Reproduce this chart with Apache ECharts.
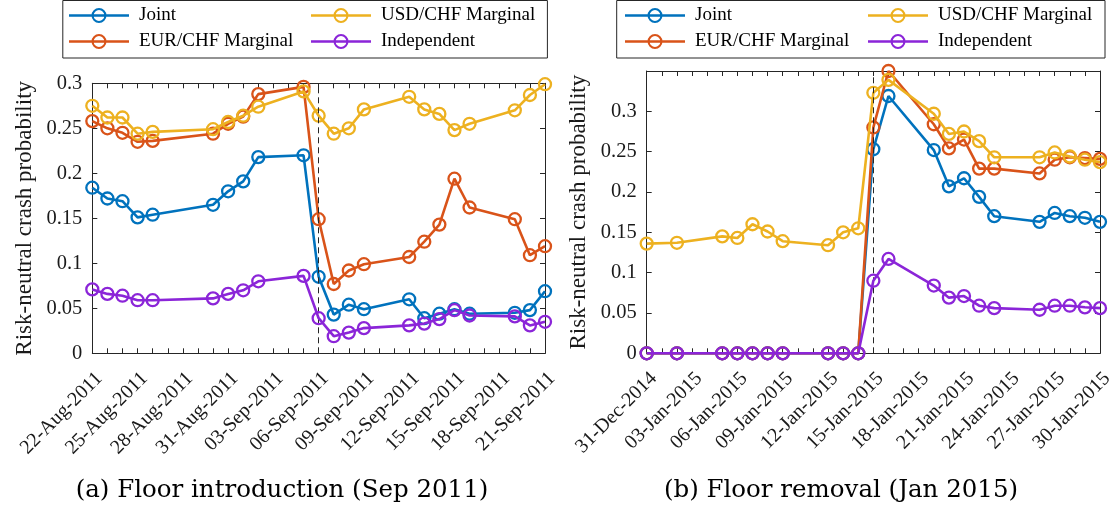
<!DOCTYPE html>
<html>
<head>
<meta charset="utf-8">
<script src="https://cdn.jsdelivr.net/npm/echarts@6/dist/echarts.min.js"></script>
<style>html,body{margin:0;padding:0;background:#fff}#c{width:1118px;height:512px}</style>
</head>
<body>
<div id="c"></div>
<script>
// ---------- data ----------
const seriesNames = ['Joint', 'EUR/CHF Marginal', 'USD/CHF Marginal', 'Independent'];
const seriesColors = ['#0072BD', '#D95319', '#EDB120', '#8B25D8'];

// (a) Floor introduction (Sep 2011)
const datesA = ['2011-08-22','2011-08-23','2011-08-24','2011-08-25','2011-08-26','2011-08-30','2011-08-31','2011-09-01','2011-09-02','2011-09-05','2011-09-06','2011-09-07','2011-09-08','2011-09-09','2011-09-12','2011-09-13','2011-09-14','2011-09-15','2011-09-16','2011-09-19','2011-09-20','2011-09-21'];
const jointA = [0.184,0.172,0.169,0.151,0.154,0.165,0.180,0.191,0.218,0.220,0.085,0.043,0.054,0.049,0.060,0.039,0.044,0.049,0.044,0.045,0.048,0.069];
const eurA   = [0.258,0.250,0.245,0.235,0.236,0.244,0.255,0.263,0.288,0.296,0.149,0.077,0.092,0.099,0.107,0.124,0.143,0.194,0.162,0.149,0.109,0.119];
const usdA   = [0.275,0.262,0.262,0.244,0.246,0.249,0.257,0.264,0.274,0.291,0.264,0.244,0.250,0.271,0.285,0.271,0.266,0.248,0.255,0.270,0.287,0.299];
const indA   = [0.071,0.066,0.064,0.059,0.059,0.061,0.066,0.070,0.080,0.086,0.039,0.019,0.023,0.028,0.031,0.033,0.038,0.048,0.042,0.041,0.031,0.035];
const startA = '2011-08-22', endA = '2011-09-21', eventA = '2011-09-06';
const ticksA = ['22-Aug-2011','25-Aug-2011','28-Aug-2011','31-Aug-2011','03-Sep-2011','06-Sep-2011','09-Sep-2011','12-Sep-2011','15-Sep-2011','18-Sep-2011','21-Sep-2011'];
const yMaxA = 0.3;

// (b) Floor removal (Jan 2015)
const datesB = ['2014-12-31','2015-01-02','2015-01-05','2015-01-06','2015-01-07','2015-01-08','2015-01-09','2015-01-12','2015-01-13','2015-01-14','2015-01-15','2015-01-16','2015-01-19','2015-01-20','2015-01-21','2015-01-22','2015-01-23','2015-01-26','2015-01-27','2015-01-28','2015-01-29','2015-01-30'];
const jointB = [0,0,0,0,0,0,0,0,0,0,0.253,0.319,0.252,0.207,0.217,0.194,0.170,0.163,0.174,0.170,0.168,0.163];
const eurB   = [0,0,0,0,0,0,0,0,0,0,0.280,0.350,0.284,0.254,0.265,0.229,0.229,0.223,0.240,0.243,0.242,0.241];
const usdB   = [0.136,0.137,0.145,0.143,0.160,0.151,0.139,0.134,0.150,0.155,0.323,0.339,0.297,0.272,0.275,0.263,0.243,0.243,0.249,0.244,0.240,0.237];
const indB   = [0,0,0,0,0,0,0,0,0,0,0.090,0.117,0.084,0.069,0.071,0.059,0.056,0.054,0.059,0.059,0.057,0.056];
const startB = '2014-12-31', endB = '2015-01-30', eventB = '2015-01-15';
const ticksB = ['31-Dec-2014','03-Jan-2015','06-Jan-2015','09-Jan-2015','12-Jan-2015','15-Jan-2015','18-Jan-2015','21-Jan-2015','24-Jan-2015','27-Jan-2015','30-Jan-2015'];
const yMaxB = 0.35;

const yTickStep = 0.05;
const xTickEvery = 3;
const yLabel = 'Risk-neutral crash probability';
const captionA = '(a) Floor introduction (Sep 2011)';
const captionB = '(b) Floor removal (Jan 2015)';

// ---------- helpers ----------
const DAY = 86400000;
const dayOf = (s, start) => Math.round((Date.parse(s) - Date.parse(start)) / DAY);
const AX = '#262626';
const SERIF = '"Liberation Serif", "Times New Roman", serif';

const grids = [
  { left: 92.3, top: 83.3, width: 452.7, height: 270 },
  { left: 646.7, top: 71, width: 453.3, height: 282.3 }
];

function xAxes(gi, start, end, ticks) {
  const max = dayOf(end, start);
  const base = {
    type: 'value', gridIndex: gi, min: 0, max: max, interval: 1,
    axisLine: { show: true, onZero: false, lineStyle: { color: AX, width: 1 } },
    axisTick: { show: true, inside: true, length: 5, lineStyle: { color: AX, width: 1 } },
    splitLine: { show: false }
  };
  return [
    Object.assign({}, base, {
      position: 'bottom',
      axisLabel: {
        show: true, rotate: 45, align: 'right', verticalAlign: 'top', margin: 15,
        fontFamily: SERIF, fontSize: 20, color: '#1a1a1a',
        formatter: v => (Math.round(v) % xTickEvery === 0 ? (ticks[Math.round(v) / xTickEvery] || '') : '')
      }
    }),
    Object.assign({}, base, { position: 'top', axisLabel: { show: false } })
  ];
}

function yAxes(gi, max) {
  const base = {
    type: 'value', gridIndex: gi, min: 0, max: max, interval: yTickStep,
    axisLine: { show: true, onZero: false, lineStyle: { color: AX, width: 1 } },
    axisTick: { show: true, inside: true, length: 5, lineStyle: { color: AX, width: 1 } },
    splitLine: { show: false }
  };
  return [
    Object.assign({}, base, {
      position: 'left',
      name: yLabel, nameLocation: 'middle', nameRotate: 90, nameGap: 56,
      nameTextStyle: { fontFamily: SERIF, fontSize: 23, color: '#1a1a1a' },
      axisLabel: {
        show: true, margin: 10, fontFamily: SERIF, fontSize: 20.5, color: '#1a1a1a',
        formatter: v => (v > 0.3 + 1e-9 ? '' : String(Math.round(v * 100) / 100))
      }
    }),
    Object.assign({}, base, { position: 'right', axisLabel: { show: false } })
  ];
}

function makeSeries(gi, dates, start, arrays, eventDate) {
  return arrays.map((vals, k) => {
    const s = {
      name: seriesNames[k], type: 'line',
      xAxisIndex: gi * 2, yAxisIndex: gi * 2,
      data: dates.map((d, i) => [dayOf(d, start), vals[i]]),
      symbol: 'circle', symbolSize: 12, clip: false,
      lineStyle: { color: seriesColors[k], width: 2.6 },
      itemStyle: { color: 'rgba(0,0,0,0)', borderColor: seriesColors[k], borderWidth: 2.3 },
      emphasis: { disabled: true },
      z: 2 + k
    };
    if (k === 0) {
      s.markLine = {
        silent: true, symbol: ['none', 'none'], label: { show: false },
        lineStyle: { color: AX, type: [6, 4], width: 1 },
        emphasis: { disabled: true },
        data: [{ xAxis: dayOf(eventDate, start) }]
      };
    }
    return s;
  });
}

const ICON = 'path://M0,6.2L60,6.2L60,8.8L0,8.8Z M22.5,7.5A7.5,7.5 0 1 1 37.5,7.5A7.5,7.5 0 1 1 22.5,7.5Z M24.6,7.5A5.4,5.4 0 1 0 35.4,7.5A5.4,5.4 0 1 0 24.6,7.5Z';

function legendAt(nameIdx, left, cy) {
  return {
    show: true, orient: 'horizontal', left: left, top: cy - 10, padding: 0,
    itemWidth: 60, itemHeight: 15, selectedMode: false,
    formatter: '{t|{name}}',
    textStyle: {
      fontFamily: SERIF, fontSize: 19, color: '#000',
      rich: { t: { fontFamily: SERIF, fontSize: 19, color: '#000', padding: [0, 0, 0, 5] } }
    },
    data: [{
      name: seriesNames[nameIdx], icon: ICON,
      itemStyle: { color: seriesColors[nameIdx], borderWidth: 0 }
    }]
  };
}

// legend layout: column 1 = Joint, EUR/CHF ; column 2 = USD/CHF, Independent
const legends = [
  legendAt(0, 69, 16), legendAt(1, 69, 42), legendAt(2, 311, 16), legendAt(3, 311, 42),
  legendAt(0, 625, 16), legendAt(1, 625, 42), legendAt(2, 868, 16), legendAt(3, 868, 42)
];

const option = {
  animation: false,
  backgroundColor: '#fff',
  grid: grids,
  xAxis: [].concat(xAxes(0, startA, endA, ticksA), xAxes(1, startB, endB, ticksB)),
  yAxis: [].concat(yAxes(0, yMaxA), yAxes(1, yMaxB)),
  legend: legends,
  series: [].concat(
    makeSeries(0, datesA, startA, [jointA, eurA, usdA, indA], eventA),
    makeSeries(1, datesB, startB, [jointB, eurB, usdB, indB], eventB)
  ),
  graphic: [
    { type: 'rect', shape: { x: 62.8, y: 0.5, width: 484.6, height: 57.5 }, style: { fill: 'none', stroke: AX, lineWidth: 1 }, silent: true },
    { type: 'rect', shape: { x: 616.7, y: 0.5, width: 488.3, height: 57.5 }, style: { fill: 'none', stroke: AX, lineWidth: 1 }, silent: true },
    { type: 'text', x: 282, y: 491, style: { text: captionA, fontFamily: '"DejaVu Serif", serif', fontSize: 24.5, fill: '#000', align: 'center', verticalAlign: 'middle' }, silent: true },
    { type: 'text', x: 841, y: 491, style: { text: captionB, fontFamily: '"DejaVu Serif", serif', fontSize: 24.5, fill: '#000', align: 'center', verticalAlign: 'middle' }, silent: true }
  ]
};

const chart = echarts.init(document.getElementById('c'), null, { renderer: 'canvas' });
chart.setOption(option);
</script>
</body>
</html>
